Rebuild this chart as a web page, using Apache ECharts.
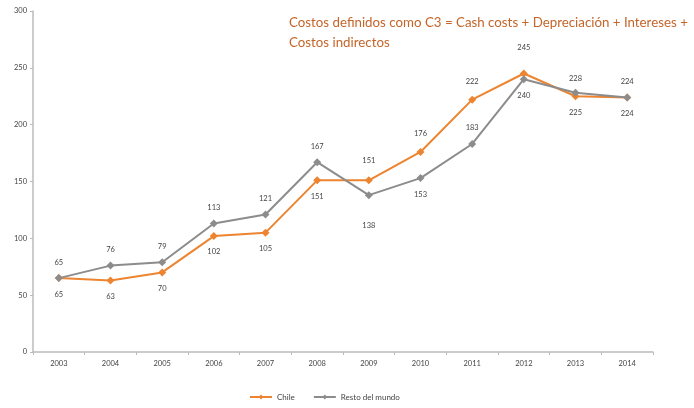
<!DOCTYPE html>
<html><head><meta charset="utf-8">
<script src="https://cdn.jsdelivr.net/npm/echarts@6/dist/echarts.min.js"></script>
<style>html,body{margin:0;padding:0;background:#fff}#c{width:694px;height:408px}</style>
</head><body><div id="c"></div>
<script>
var years = ['2003','2004','2005','2006','2007','2008','2009','2010','2011','2012','2013','2014'];
var chile = [65,63,70,102,105,151,151,176,222,245,225,224];
var resto = [65,76,79,113,121,167,138,153,183,240,228,224];
var chilePos = ['bottom','bottom','bottom','bottom','bottom','bottom','top','top','top','top','bottom','bottom'];
var restoPos = ['top','top','top','top','top','top','bottom','bottom','top','bottom','top','top'];
var titleText = 'Costos definidos como C3 = Cash costs + Depreciación + Intereses +\nCostos indirectos';

function mk(vals, pos, extra) {
  return vals.map(function(v,i){
    var d = {value:v, label:{position:pos[i]}};
    if (extra && extra[i]) d.label.distance = extra[i];
    return d;
  });
}
var chileDist = {9: 18, 6: 12, 7: 10, 8: 10};
var restoDist = {6: 22, 10: 6};

var chart = echarts.init(document.getElementById('c'));
chart.setOption({
  animation:false,
  title:{text:titleText, left:284, top:8, textStyle:{color:'#C4652A', fontSize:13.3, fontWeight:'normal', fontFamily:'Lato', lineHeight:20}},
  grid:{left:33, right:41, top:11, bottom:56},
  legend:{bottom:2, left:244, itemWidth:22, itemHeight:6, itemGap:18, textStyle:{fontSize:8, color:'#444', fontFamily:'Lato'},
    data:['Chile','Resto del mundo']},
  xAxis:{type:'category', data:years, boundaryGap:true,
    axisLine:{lineStyle:{color:'#BBBBBB', width:1.5}},
    axisTick:{show:true, length:3, lineStyle:{color:'#BBBBBB'}},
    axisLabel:{fontSize:7.5, color:'#444', margin:8, fontFamily:'Lato'}},
  yAxis:{type:'value', min:0, max:300, interval:50,
    splitLine:{show:false},
    axisLine:{show:true, lineStyle:{color:'#BBBBBB', width:1.5}},
    axisTick:{show:true, length:3, lineStyle:{color:'#BBBBBB'}},
    axisLabel:{fontSize:7.5, color:'#444', margin:6, fontFamily:'Lato'}},
  series:[
    {name:'Chile', type:'line', data:mk(chile, chilePos, chileDist), color:'#EC8430',
      symbol:'diamond', symbolSize:8, lineStyle:{width:2},
      label:{show:true, fontSize:7.5, color:'#444', distance:8, fontFamily:'Lato'}},
    {name:'Resto del mundo', type:'line', data:mk(resto, restoPos, restoDist), color:'#8C8C8C',
      symbol:'diamond', symbolSize:8, lineStyle:{width:2},
      label:{show:true, fontSize:7.5, color:'#444', distance:8, fontFamily:'Lato'}}
  ]
});
</script></body></html>
